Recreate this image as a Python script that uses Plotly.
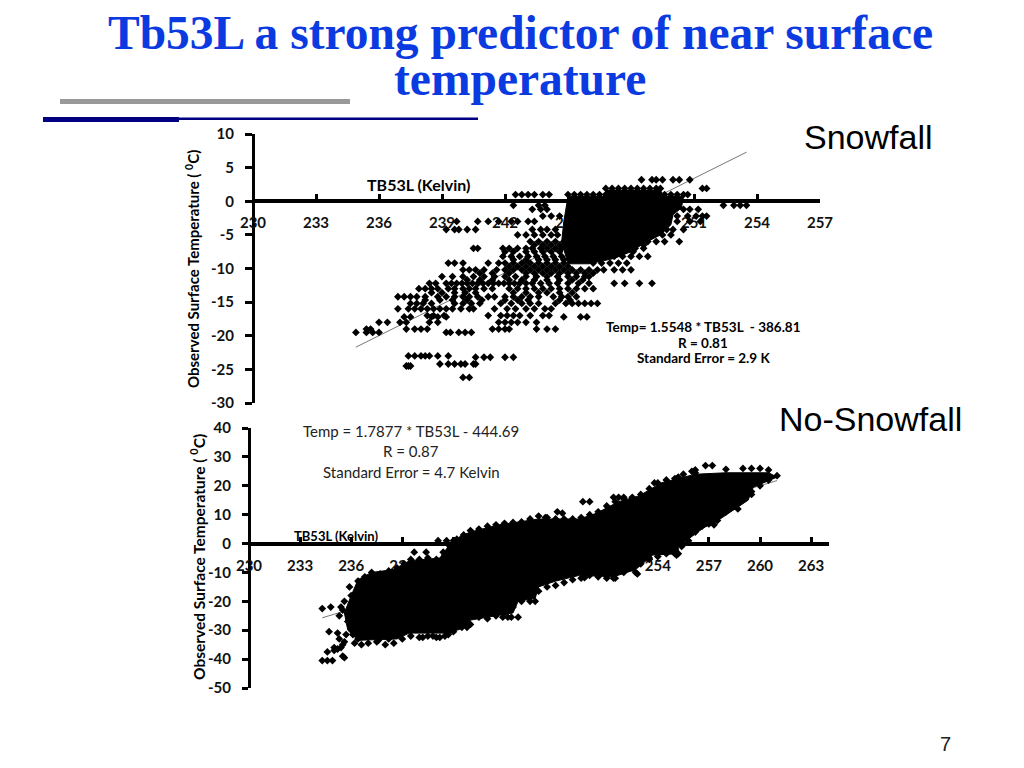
import plotly.graph_objects as go

# ---------- Snowfall panel: rows of observed temperature with TB53L readings ----------
snow_row_y = [-26.2,-24.5,-24.2,-23.2,-23,-19.5,-19,-18,-17.2,-17,-16,-15.2,-14.7,-14.2,-13.6,-13,-12.2,-11.7,-11.2,-10.7,-10.2,-9.7,-9.2,-8.7,-8.2,-7.5,-7,-6.5,-6,-5,-4.2,-3,-2.2,-1.2,-0.6,1,1.9,3.2]
snow_row_x = [
 [240.0,240.3],
 [237.3,237.4,237.5],
 [238.9,239.3,239.6,239.9,240.1,240.5,240.6],
 [240.6,241.0,241.3,242.0,242.4],
 [237.4,237.7,238.0,238.2,238.4,238.8,239.3],
 [234.9,235.4,235.7,236.0,239.2,239.4,239.8,240.1,240.4],
 [235.4,235.6,237.3,237.7,238,238.3,241.4,241.7,242,242.2,243.5,244,244.4],
 [236,236.4,237,237.3,238.4,238.8,241.7,242,242.3,242.6,243,243.5],
 [237.2,237.5,238.5,238.8,239.2,244.8,245.6,245.9],
 [238.3,238.6,239.1,241.2,241.8,242.1,242.4,242.7,243.2,243.8,244.1],
 [236.9,237.4,237.7,238,238.3,238.6,238.9,239.2,239.5,239.9,240.3,240.5,241.5,242.1,242.5,243,243.4,243.9,244.2],
 [237.5,237.8,238.1,238.5,239.6,240,240.4,240.8,241.8,242.3,242.8,243.2,243.6,244.4,244.9,245.2,245.5,245.8,246.1,246.4],
 [238.2,238.9,239.5,240.2,240.9,242,242.6,243.1,244.6,245.1],
 [236.9,237.2,237.5,237.8,238.2,238.8,239.2,239.6,240,240.3,240.7,241.2,241.5,242,242.4,242.8,243.2,243.6,244.3,244.7,245,245.4],
 [238.5,239,239.6,240.1,240.6,242.4,243,243.6,244,244.6,245.2],
 [237.9,238.2,238.5,238.8,239.3,239.6,240,240.3,240.6,241,241.4,242.2,242.6,243,243.4,243.8,244.2,244.6,245,245.4,245.8,246.2],
 [238.4,238.7,239.2,239.45,239.7,239.95,240.2,240.45,240.7,240.95,241.2,241.45,241.7,241.95,242.2,242.45,242.7,243,243.3,243.7,244.1,244.5,245,245.5,246,247.2,247.7,248.4,249],
 [240.2,240.8,241.4,242.2,242.8,243.4,244,244.6,245.2,245.7],
 [239,239.5,240,240.5,241,241.5,242,242.5,243,243.5,244,244.5,245,245.4,245.8,246],
 [240.8,241.4,242.2,243,243.4,243.8,244.2,244.6,245,245.4,245.8,246.2],
 [240,240.3,240.6,241,241.6,242,242.4,242.8,243.2,243.6,244,244.4,244.8,245.2,245.6,246,246.4,246.7,247.2,247.6,248],
 [242.2,242.6,243,243.4,243.8,244.2,244.6,245],
 [239.3,239.6,240,241.2,241.7,242,242.4,242.8,243.2,243.6,244,244.4,244.8,246.2,246.6,247,247.4,247.8],
 [242.4,243,243.6,244,244.4,244.8],
 [241.9,242.3,242.7,243.1,243.5,243.9,244.3,244.7,247.2,247.6,248,248.4,248.8],
 [242,242.4,243,243.4,243.8,244.2,244.6,247.6,248.1],
 [240.5,240.7,241.9,242.2,242.6,243,243.3,243.7,244,244.4,244.7,248.2,248.6],
 [243.4,243.8,244.2,244.6,248.6],
 [243.2,243.6,244,244.4,244.8,248.8,249.2,249.6,250.3],
 [242.6,243,243.4,243.8,244.2,244.5,249.5,249.9],
 [239.2,239.6,239.8,240.2,240.6,243.3,243.7,244,244.4,249.7,250,250.5],
 [239.7,240.7,241.2,241.7,242.3,242.6,243.1,243.4,250.2,250.8,251.3],
 [243.8,244.2,244.6,250.2,250.7,251.1,251.4,251.6],
 [243.3,243.7,244,250.5,250.8,251.2],
 [242.4,243.6,243.9,252.4,252.9,253.2,253.5],
 [242.5,242.8,243.1,243.4,243.8,244.1,245,245.3,245.6,245.9,246.2,246.5,246.8,249.6,249.9,250.2,250.5,250.7],
 [246.8,247.1,247.4,247.7,248,248.3,248.6,248.9,249.2,249.4,251.4,251.6],
 [248.5,249,249.2,249.5,250,250.3,250.8],
]
# outline of the saturated dense part of the snowfall cloud
snow_core_x = [245,246.8,246.8,249.4,249.6,250.5,250.4,250,249.9,249.4,248.6,248,247.2,246,245,244.7,244.8,245]
snow_core_y = [0.7,0.7,1.6,1.6,0.7,0.7,-1,-2,-3.5,-5,-6.3,-7.5,-8.5,-9.3,-9.3,-6,-3,0.7]
snow_fit_x = [234.9,253.5]
snow_fit_y = [-21.7,7.3]

# ---------- No-snowfall panel ----------
# outline of the saturated cloud
dry_core_x = [236.4,237.2,238.5,239.4,241.2,241.7,242.4,243,244.7,247,249.4,250.4,251.7,252.9,254.2,256.2,258,260.5,261,259.6,259.3,257.4,256.7,255.2,255.2,253.7,252.7,251.4,249.4,248,247,246.8,245.8,245.5,243,242.7,241.7,239.4,238.7,236.4,235.8,235.6,236,236.4]
dry_core_y = [-12.5,-10,-9,-6,-5,-1,2.5,4,6.5,8.5,8.5,10.5,14.5,16.5,21,24,24.5,24.5,23,19.5,15,7.5,5.5,-1,-3.5,-4,-9,-11.5,-11,-13,-15,-19,-20,-24,-26.5,-29,-31,-31,-33,-33.5,-30,-24,-18,-12.5]
dry_x = [234.3,234.8,235.4,234.7,235.2,235.7,236.1,234.6,235,235.2,235.5,235.6,235.3,234.3,234.6,234.9,235.6,235.5,235,235.4,
         245.8,244.9,245.2,245.4,246.5,246.8,239.7,240.4,241.4,241.1,241.6,242,
         249.7,251,251.4,252.7,249.6,250,251.4,251.7,252,248.1,248.4,247.4,
         257,257.3,256.5,256.8,256,255.7,255.2,255.1,253.5,252.8,258.7,259.5,
         258,259,259.5,260,260.5,260.5,261,256.8,257.2,256.2,256.2,255.2,253.8,
         236.2,236.6,240.2,240.8,241.2,241.7,242.8,238.2,237.6,
         236.4,236.8,237.2,237.7,238.2,238.7,239.1,239.5,240,240.5,241,241.5,241.8,242.2,242.6,243,243.5,244,244.5,245,245.5,246,246.5,247,247.5,248,248.5,249,249.5,250,250.5,251,251.5,252,252.5,253,253.5,254,254.5,255,255.5,256,
         237,237.5,238,238.5,239,239.5,240,240.5,241,241.5,242,242.5,243,243.5,244,244.5,245,245.5,246,246.5,247,247.5,248,248.5,249,249.5,250,250.5,251,251.5,252,252.5,253,253.5,254,254.5,255,255.4,255.8,256.2,256.6,257,257.5,258,258.5,259,259.5,260,260.5,
         235.9,236,235.6,235.5,235.3,235.8,236,236.2,236.4]
dry_y = [-22.5,-22,-22,-30.5,-31,-31.5,-31.5,-37.5,-37,-36.5,-35,-34,-33,-40.5,-40.5,-40.5,-39.5,-39,-36,-36,
         -25.5,-25.5,-25.5,-25.5,-20,-20,-3,-3,-3,1,1,1,
         -11.8,-12,-12,-10,14.5,14.5,16,16,16,11,10.5,9,
         6.8,6.5,9,8.5,5,4,-3.5,-4,-5,-10.5,12,17,
         25.7,26,26,26,25.5,23.5,23.5,27,27,25.5,24.5,23,21,
         -34.5,-35,-32.5,-32,-32.5,-31.5,-29,-33,-33.5,
         -13,-11.5,-10,-10.5,-9.5,-8.5,-7,-5.5,-5.5,-5,-5.5,-4,-1,1.5,3,4.5,5,6,6.5,7,7.3,7.5,8.5,9.5,9,8.5,8.5,8.5,9,10,11,13,14.5,15.5,16,17,19,21,22,22.5,24,25,
         -34.5,-34,-35,-34.5,-33,-32,-32.5,-32,-32.5,-32,-30.5,-29,-28,-25.5,-26,-25,-24,-22,-20,-18,-16.5,-15,-14.5,-13.5,-12.5,-12,-11,-11.5,-11,-12,-10,-8.5,-7,-5.5,-4.5,-3.5,-3.5,-1,1,4,6,7,8,11,13,15.5,18,20,22,
         -15,-18,-20,-23,-25,-27,-29,-31,-33]
dry_fit_x = [234.3,261]
dry_fit_y = [-25.7,21.8]

snow_x_ticks = [230,233,236,239,242,245,248,251,254,257]
snow_y_ticks = [10,5,0,-5,-10,-15,-20,-25,-30]
dry_x_ticks = [230,233,236,239,242,245,248,251,254,257,260,263]
dry_y_ticks = [40,30,20,10,0,-10,-20,-30,-40,-50]

W, H = 1024, 768
def px(v): return v / W
def py(v): return 1 - v / H

fig = go.Figure()
CHART_FONT = "Lato"

# snowfall
sx = [x for xs in snow_row_x for x in xs]
sy = [y for y, xs in zip(snow_row_y, snow_row_x) for _ in xs]
fig.add_trace(go.Scatter(x=snow_fit_x, y=snow_fit_y, mode="lines", line=dict(color="#777777", width=1), xaxis="x", yaxis="y"))
fig.add_trace(go.Scatter(x=snow_core_x, y=snow_core_y, mode="lines", fill="toself", fillcolor="black", line=dict(color="black", width=1), xaxis="x", yaxis="y"))
fig.add_trace(go.Scatter(x=sx, y=sy, mode="markers", marker=dict(symbol="diamond", size=6, color="black"), xaxis="x", yaxis="y"))
# no snowfall
fig.add_trace(go.Scatter(x=dry_fit_x, y=dry_fit_y, mode="lines", line=dict(color="#777777", width=1), xaxis="x2", yaxis="y2"))
fig.add_trace(go.Scatter(x=dry_core_x, y=dry_core_y, mode="lines", fill="toself", fillcolor="black", line=dict(color="black", width=1), xaxis="x2", yaxis="y2"))
fig.add_trace(go.Scatter(x=dry_x, y=dry_y, mode="markers", marker=dict(symbol="diamond", size=6, color="black"), xaxis="x2", yaxis="y2"))

tickfont = dict(family=CHART_FONT, size=15, color="#111111", weight=700)
fig.update_layout(
    width=W, height=H, margin=dict(l=0, r=0, t=0, b=0, autoexpand=False), showlegend=False,
    paper_bgcolor="white", plot_bgcolor="white",
    xaxis=dict(domain=[px(253), px(820)], range=[230, 257], anchor="free", position=py(201),
               tickvals=snow_x_ticks, ticks="inside", ticklen=5, tickwidth=3, tickcolor="black",
               showline=True, linewidth=4, linecolor="black", showgrid=False, zeroline=False,
               tickfont=tickfont, ticklabelstandoff=7, layer="below traces"),
    yaxis=dict(domain=[py(403), py(134)], range=[-30, 10], anchor="free", position=px(253),
               tickvals=snow_y_ticks, ticktext=[str(v) for v in snow_y_ticks],
               ticks="outside", ticklen=7, tickwidth=3, tickcolor="black",
               showline=True, linewidth=3, linecolor="black", showgrid=False, zeroline=False,
               tickfont=tickfont, ticklabelstandoff=8, layer="below traces"),
    xaxis2=dict(domain=[px(249), px(829)], range=[230, 264.05], anchor="free", position=py(544),
               tickvals=dry_x_ticks, ticks="inside", ticklen=5, tickwidth=3, tickcolor="black",
               showline=True, linewidth=4, linecolor="black", showgrid=False, zeroline=False,
               tickfont=tickfont, ticklabelstandoff=7, layer="below traces"),
    yaxis2=dict(domain=[py(688), py(428)], range=[-50, 40], anchor="free", position=px(249),
               tickvals=dry_y_ticks, ticktext=[str(v) for v in dry_y_ticks],
               ticks="outside", ticklen=6, tickwidth=3, tickcolor="black",
               showline=True, linewidth=3, linecolor="black", showgrid=False, zeroline=False,
               tickfont=tickfont, ticklabelstandoff=8, layer="below traces"),
)

def note(text, x, y, size, color="black", family=CHART_FONT, angle=0):
    fig.add_annotation(text=text, xref="paper", yref="paper", x=px(x), y=py(y), showarrow=False,
                       xanchor="center", yanchor="middle", textangle=angle,
                       font=dict(family=family, size=size, color=color))

TITLE = "#0b3be0"
note("<b>Tb53L a strong predictor of near surface</b>", 520, 33, 47.5, TITLE, "Liberation Serif")
note("<b>temperature</b>", 520, 79, 47.5, TITLE, "Liberation Serif")
note("Snowfall", 868, 137, 34, "black", "Liberation Sans")
note("No-Snowfall", 870, 419, 34, "black", "Liberation Sans")
note("7", 945, 744, 20, "#222222", "Liberation Sans")

note("<b>Observed Surface Temperature ( <sup>0</sup>C)</b>", 192, 269, 15, angle=-90)
note("<b>Observed Surface Temperature ( <sup>0</sup>C)</b>", 197, 557, 15.5, angle=-90)
note("<b>TB53L (Kelvin)</b>", 418, 185, 16)
note("<b>TB53L (Kelvin)</b>", 336, 536, 13)
note("<b>Temp= 1.5548 * TB53L  - 386.81</b>", 703, 327, 13.5)
note("<b>R = 0.81</b>", 703, 343, 13.5)
note("<b>Standard Error = 2.9 K</b>", 703, 358, 13.5)
note("Temp = 1.7877 * TB53L - 444.69", 411, 431, 15, "#222222")
note("R = 0.87", 411, 451, 15, "#222222")
note("Standard Error = 4.7 Kelvin", 411, 472, 15, "#222222")

fig.add_shape(type="rect", xref="paper", yref="paper", x0=px(60), x1=px(350), y0=py(104), y1=py(99), fillcolor="#999999", line_width=0)
fig.add_shape(type="rect", xref="paper", yref="paper", x0=px(43), x1=px(179), y0=py(122), y1=py(117), fillcolor="#000080", line_width=0)
fig.add_shape(type="rect", xref="paper", yref="paper", x0=px(179), x1=px(478), y0=py(120), y1=py(117.5), fillcolor="#000080", line_width=0)

fig.write_html("out.html", config={"displayModeBar": False}, post_script="document.body.style.margin='0';")
